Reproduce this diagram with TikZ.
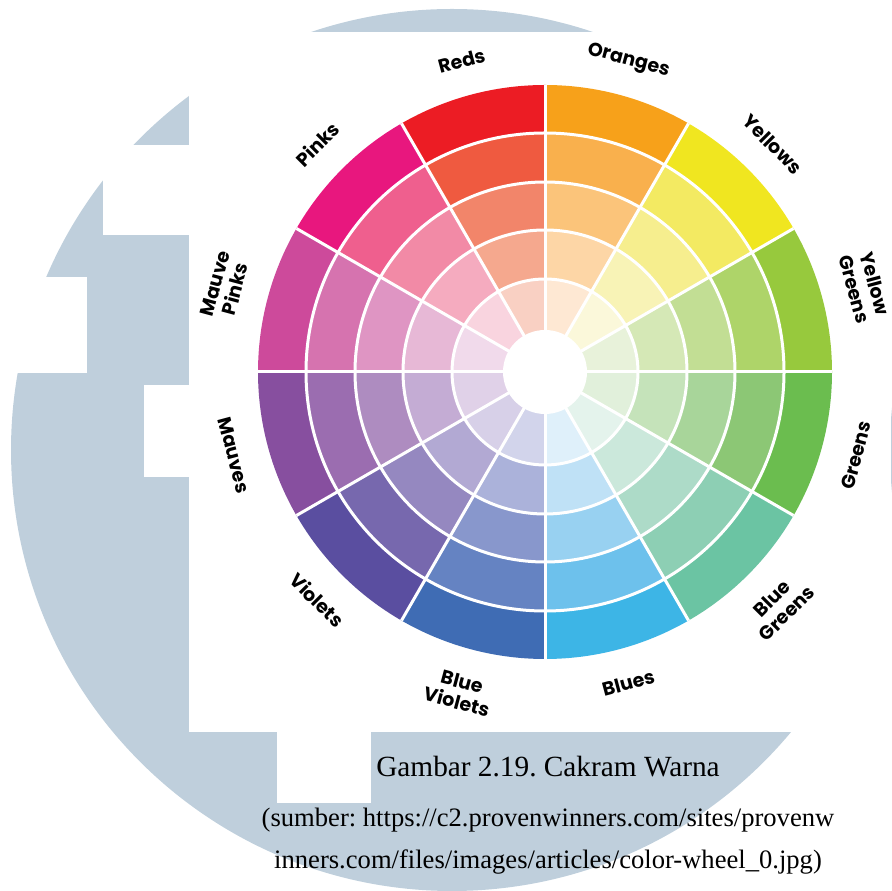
\documentclass[tikz,border=0pt]{standalone}
\usepackage{fontspec}
\setmainfont{Liberation Serif}
\newfontfamily\labelfont{Poppins}
\definecolor{backblue}{HTML}{BFCFDC}
\frenchspacing
\tikzset{
  gap/.style={white, line width=3pt},
  hue label/.style={font=\labelfont\bfseries\fontsize{19}{21}\selectfont, align=center, inner sep=0pt},
  caption/.style={anchor=base, inner sep=0pt}
}
\begin{document}
\begin{tikzpicture}[x=1pt,y=1pt]
\useasboundingbox (0,0) rectangle (891,891);
% Draw the big circle behind everything
\fill[backblue] (452,441) circle[radius=441];
% White patches on top of it
\fill[white] (189,159) rectangle (891,859);
\fill[white] (103,656) rectangle (189,746);
\fill[white] (0,518) rectangle (87,614);
\fill[white] (144,414) rectangle (189,506);
\fill[white] (277,88) rectangle (371,159);
% Draw the wheel: 12 sectors, 5 rings each (outer to inner)
\begin{scope}[shift={(545,519)}]
\foreach \ang/\ca/\cb/\cc/\cd/\ce in {
  90/EC1C24/EF5A40/F2856A/F5A88E/F9D0C3,
  60/F7A11A/F9B04D/FBC47A/FDD6A6/FEE8D3,
  30/F0E620/F3EA62/F6EE8E/F8F3B6/FBF8DA,
  0/97C93D/AED469/C2DE94/D5E8B6/E8F2DA,
  -30/6BBD4F/8CC775/A8D59A/C5E3BA/E1F0DB,
  -60/6BC4A3/8DCFB4/ADDBC8/CBE8DB/E4F3EC,
  -90/3DB5E6/6DC1EC/98D1F1/BFE1F6/DFF0FA,
  -120/3F6CB4/6583C2/8897CC/ABB2DA/D2D4EB,
  -150/5A4EA0/7768AE/9588C0/B2A9D3/D7D0E8,
  180/874F9F/9B6DB0/AE8CC0/C4ACD4/E0D1E8,
  150/CD4A9B/D673AF/DF95C3/E7B8D6/F1DAEB,
  120/E8177E/EF5F8E/F28AA6/F5ABBF/F9D4DF}
{
\foreach \col/\ri/\ro in {\ca/239/287, \cb/190/239, \cc/142/190, \cd/93/142, \ce/41/93}
{
\definecolor{cell}{HTML}{\col}
\fill[cell] (\ang:\ri) arc[start angle=\ang, end angle=\ang+30, radius=\ri]
  -- ({\ang+30}:\ro) arc[start angle=\ang+30, end angle=\ang, radius=\ro] -- cycle;
}
}
% White lines between the cells
\foreach \r in {93,142,190,239}
\draw[gap] (0,0) circle[radius=\r];
\foreach \ang in {0,30,...,330}
\draw[gap] (\ang:41) -- (\ang:287);
\fill[white] (0,0) circle[radius=42];
% Names of the hues round the wheel
\foreach \ang/\rot/\r/\name/\txt in {
  105/15/322/reds/Reds, 75/-15/322/oranges/Oranges, 45/-45/322/yellows/Yellows,
  15/-75/331/ylwgreens/{Yellow\\Greens}, -15/75/322/greens/Greens,
  -45/45/331/bluegreens/{Blue\\Greens}, -75/15/322/blues/Blues,
  -105/-15/331/blueviolets/{Blue\\Violets}, -135/-45/322/violets/Violets,
  -165/-75/322/mauves/Mauves, 165/75/331/mauvepinks/{Mauve\\Pinks},
  135/45/322/pinks/Pinks}
\node[hue label, rotate=\rot] (lbl-\name) at (\ang:\r) {\txt};
\end{scope}
% Caption below
\node[caption, font=\fontsize{29.3}{34}\selectfont] (title) at (548,114) {Gambar 2.19. Cakram Warna};
\node[caption, font=\fontsize{26.6}{31}\selectfont] (src1) at (548,64) {(sumber: https://c2.provenwinners.com/sites/provenw};
\node[caption, font=\fontsize{26.6}{31}\selectfont] (src2) at (548,23) {inners.com/files/images/articles/color-wheel\_0.jpg)};
\end{tikzpicture}
\end{document}
